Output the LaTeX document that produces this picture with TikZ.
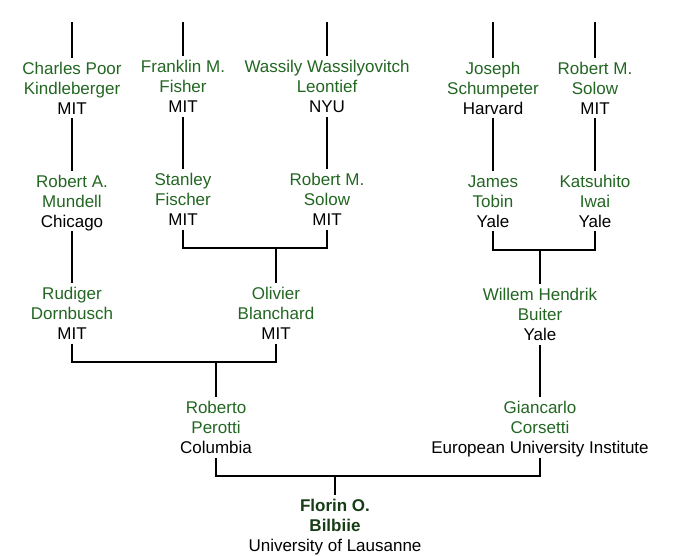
\documentclass[tikz,border=0pt]{standalone}
\usepackage{fontspec}
\setmainfont{Liberation Sans}
\definecolor{gname}{HTML}{226622}
\definecolor{bname}{HTML}{173D17}
\newcommand\plin[1]{\raisebox{0pt}[12.2pt][0pt]{#1}}
\newcommand\person[3]{\plin{\color{gname}#1}\\\plin{\color{gname}#2}\\\plin{#3}}
\tikzset{
  person/.style={align=center, inner xsep=2pt, inner ysep=4pt, font=\fontsize{17pt}{20pt}\selectfont},
  link/.style={line width=1.3pt, black, line join=miter}
}
\begin{document}
\begin{tikzpicture}[x=1pt,y=-1pt]
\useasboundingbox (0,0) rectangle (680,555);
% row 1
\node[person] (kin) at (72,88) {\person{Charles Poor}{Kindleberger}{MIT}};
\node[person] (fis) at (183,86.5) {\person{Franklin M.}{Fisher}{MIT}};
\node[person] (leo) at (327,86.5) {\person{Wassily Wassilyovitch}{Leontief}{NYU}};
\node[person] (sch) at (493,88) {\person{Joseph}{Schumpeter}{Harvard}};
\node[person] (solA) at (595,88) {\person{Robert M.}{Solow}{MIT}};
% row 2
\node[person] (mun) at (72,201) {\person{Robert A.}{Mundell}{Chicago}};
\node[person] (fic) at (183,199.5) {\person{Stanley}{Fischer}{MIT}};
\node[person] (solB) at (327,199.5) {\person{Robert M.}{Solow}{MIT}};
\node[person] (tob) at (493,201) {\person{James}{Tobin}{Yale}};
\node[person] (iwa) at (595,201) {\person{Katsuhito}{Iwai}{Yale}};
% row 3
\node[person] (dor) at (72,313.5) {\person{Rudiger}{Dornbusch}{MIT}};
\node[person] (bla) at (276,313.5) {\person{Olivier}{Blanchard}{MIT}};
\node[person] (bui) at (540,314.5) {\person{Willem Hendrik}{Buiter}{Yale}};
% row 4
\node[person] (per) at (216,427.5) {\person{Roberto}{Perotti}{Columbia}};
\node[person] (cor) at (540,427.5) {\person{Giancarlo}{Corsetti}{European University Institute}};
% row 5
\node[person] (bil) at (335,525.5) {\plin{\color{bname}\bfseries Florin O.}\\\plin{\color{bname}\bfseries Bilbiie}\\\plin{University of Lausanne}};
% top stubs
\coordinate (tkin) at (72,22);
\coordinate (tfis) at (183,22);
\coordinate (tleo) at (327,22);
\coordinate (tsch) at (493,22);
\coordinate (tsolA) at (595,22);
\draw[link] (tkin) -- (kin.north);
\draw[link] (tfis) -- (fis.north);
\draw[link] (tleo) -- (leo.north);
\draw[link] (tsch) -- (sch.north);
\draw[link] (tsolA) -- (solA.north);
% straight links
\draw[link] (kin.south) -- (mun.north);
\draw[link] (fis.south) -- (fic.north);
\draw[link] (leo.south) -- (solB.north);
\draw[link] (sch.south) -- (tob.north);
\draw[link] (solA.south) -- (iwa.north);
\draw[link] (mun.south) -- (dor.north);
\draw[link] (bui.south) -- (cor.north);
% joins
\coordinate (j1) at (276,248);
\draw[link] (fic.south) |- (j1) -| (solB.south);
\draw[link] (j1) -- (bla.north);
\coordinate (j2) at (540,250);
\draw[link] (tob.south) |- (j2) -| (iwa.south);
\draw[link] (j2) -- (bui.north);
\coordinate (j3) at (216,362);
\draw[link] (dor.south) |- (j3) -| (bla.south);
\draw[link] (j3) -- (per.north);
\coordinate (j4) at (335,476);
\draw[link] (per.south) |- (j4) -| (cor.south);
\draw[link] (j4) -- (bil.north);
\end{tikzpicture}
\end{document}
